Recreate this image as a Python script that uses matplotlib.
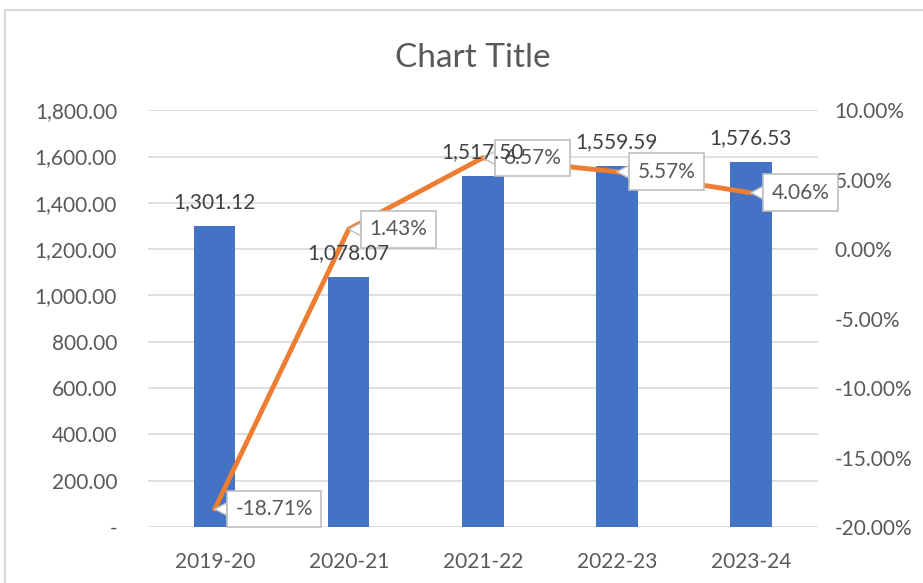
import matplotlib
matplotlib.use("Agg")
import matplotlib.pyplot as plt
from matplotlib.patches import Rectangle
from matplotlib.ticker import FuncFormatter, MultipleLocator

years = ["2019-20", "2020-21", "2021-22", "2022-23", "2023-24"]
values = [1301.12, 1078.07, 1517.50, 1559.59, 1576.53]
growth = [-18.71, 1.43, 6.57, 5.57, 4.06]

blue = "#4472C4"
orange = "#ED7D31"
grey = "#595959"

plt.rcParams['font.family'] = ['Lato', 'DejaVu Sans']

fig = plt.figure(figsize=(9.23, 5.83), dpi=100)
ax = fig.add_axes([0.160, 0.096, 0.726, 0.715])
ax2 = ax.twinx()

x = list(range(len(years)))
ax.bar(x, values, width=0.31, color=blue, zorder=2)
ax.set_xlim(-0.5, len(years) - 0.5)
ax.set_ylim(0, 1800)
ax.yaxis.set_major_locator(MultipleLocator(200))
ax.yaxis.set_major_formatter(FuncFormatter(lambda v, p: "-" if v == 0 else f"{v:,.2f}"))
ax.grid(axis='y', color="#D9D9D9", linewidth=1.2, zorder=0)
ax.set_axisbelow(True)
ax.set_xticks(x)
ax.set_xticklabels(years)
ax.tick_params(axis='x', length=0, pad=18, labelsize=15, labelcolor=grey)
ax.tick_params(axis='y', length=0, pad=22, labelsize=15, labelcolor=grey)

ax2.plot(x, growth, color=orange, linewidth=3.5, solid_capstyle='round', zorder=3)
ax2.set_ylim(-20, 10)
ax2.yaxis.set_major_locator(MultipleLocator(5))
ax2.yaxis.set_major_formatter(FuncFormatter(lambda v, p: f"{v:.2f}%"))
ax2.tick_params(axis='y', length=0, pad=12, labelsize=15, labelcolor=grey)

# callout labels for the growth line
for xi, g in zip(x, growth):
    ax2.annotate(f"{g:.2f}%", (xi, g), xytext=(15, 0), textcoords='offset points',
                 ha='left', va='center', fontsize=15, color=grey, zorder=6,
                 bbox=dict(boxstyle='square,pad=0.4', fc='white', ec='#BFBFBF', lw=1.2),
                 arrowprops=dict(arrowstyle='wedge,tail_width=0.6,shrink_factor=0.5',
                                 fc='white', ec='#BFBFBF', lw=1.0, shrinkA=0, shrinkB=0))

# bar value labels drawn on top of everything (as in the original)
for xi, v in zip(x, values):
    ax2.annotate(f"{v:,.2f}", (xi, v), xycoords=ax.transData, xytext=(0, 10),
                 textcoords='offset points', ha='center', va='bottom', fontsize=15,
                 color="#404040", zorder=7)

for a in (ax, ax2):
    for s in a.spines.values():
        s.set_visible(False)

fig.text(0.512, 0.9, "Chart Title", ha='center', va='center', fontsize=24, color=grey)
fig.patches.append(Rectangle((5 / 923, -0.1), 1.1, 1.083, transform=fig.transFigure,
                             fill=False, ec='#D9D9D9', lw=1.5))

fig.savefig("out.png", dpi=100)
